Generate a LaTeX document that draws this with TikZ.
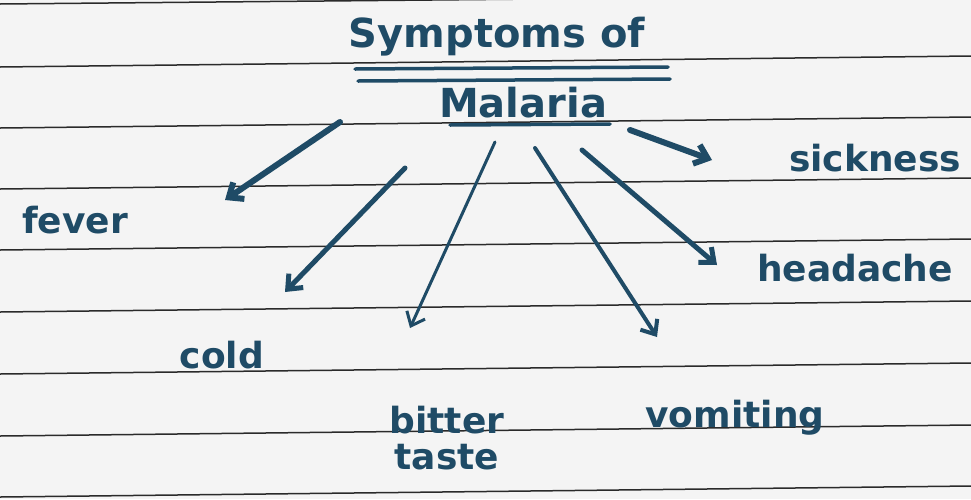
\documentclass[tikz,border=0pt]{standalone}
\usepackage{fontspec}
\setmainfont{DejaVu Sans}
\usetikzlibrary{arrows.meta}
\definecolor{ink}{HTML}{1F4B66}
\definecolor{paper}{HTML}{F4F4F4}
\definecolor{rulec}{HTML}{2A2A2A}
\tikzset{
  titletext/.style={text=ink, font=\fontsize{40}{44}\selectfont\bfseries, inner sep=0pt},
  symp/.style={text=ink, font=\fontsize{36}{40}\selectfont\bfseries, inner sep=0pt, align=center},
  arr/.style={draw=ink, line cap=round, -{Straight Barb[length=12pt,width=20pt]}},
  uline/.style={draw=ink, line width=3.5pt, line cap=round},
  ruled/.style={draw=rulec, line width=1.5pt}
}
\begin{document}
\begin{tikzpicture}[x=1pt,y=-1pt]
\fill[paper] (0,0) rectangle (971,499);
\useasboundingbox (0,0) rectangle (971,499);
% ruled paper
\draw[ruled] (0,4) -- (971,-5);
\foreach \yy in {67,128,189,250,312,374,436,497}
  \draw[ruled] (0,\yy) -- (971,\yy-11);
% title
\node[titletext] (t1) at (497,37) {Symptoms of};
\node[titletext] (t2) at (523,103) {Malaria};
\draw[uline] (355,69) -- (668,67);
\draw[uline] (358,81) -- (670,79);
\draw[uline] (450,125) -- (610,124);
% symptoms
\node[symp] (fever) at (75,220) {fever};
\node[symp] (cold) at (222,355) {cold};
\node[symp] (bitter) at (447,438) {bitter\\[-4pt]taste};
\node[symp] (vomit) at (735,418) {vomiting};
\node[symp] (head) at (855,268) {headache};
\node[symp] (sick) at (875,158) {sickness};
% arrow ends
\coordinate (s1) at (340,122); \coordinate (e1) at (225,200);
\coordinate (s2) at (405,168); \coordinate (e2) at (285,292);
\coordinate (s3) at (495,142); \coordinate (e3) at (410,328);
\coordinate (s4) at (535,148); \coordinate (e4) at (657,337);
\coordinate (s5) at (582,150); \coordinate (e5) at (717,265);
\coordinate (s6) at (630,130); \coordinate (e6) at (712,160);
\draw[arr, line width=6pt] (s1) -- (e1);
\draw[arr, line width=5pt] (s2) -- (e2);
\draw[arr, line width=3pt] (s3) -- (e3);
\draw[arr, line width=4pt] (s4) -- (e4);
\draw[arr, line width=5pt] (s5) -- (e5);
\draw[arr, line width=6pt] (s6) -- (e6);
\end{tikzpicture}
\end{document}
